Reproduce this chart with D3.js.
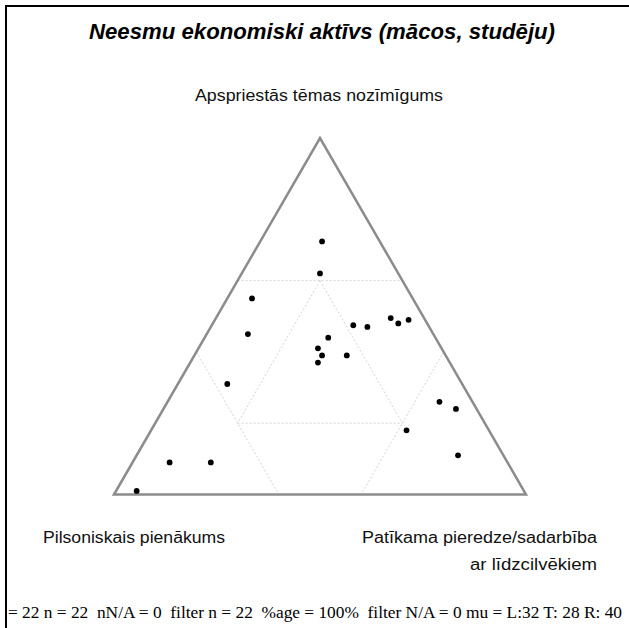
<!DOCTYPE html>
<html>
<head>
<meta charset="utf-8">
<script src="https://cdn.jsdelivr.net/npm/d3@7"></script>
<style>
  body { margin: 0; background: #fff; }
  svg { display: block; }
</style>
</head>
<body>
<div id="chart"></div>
<script>
const title = 'Neesmu ekonomiski aktīvs (mācos, studēju)'
const topLabel = 'Apspriestās tēmas nozīmīgums'
const leftLabel = 'Pilsoniskais pienākums'
const rightLabel = ['Patīkama pieredze/sadarbība', 'ar līdzcilvēkiem']
const footer = '= 22 n = 22  nN/A = 0  filter n = 22  %age = 100%  filter N/A = 0 mu = L:32 T: 28 R: 40'

// shares in percent, one entry per respondent
const leftVals = [14, 19, 39, 45, 57, 82, 72, 94, 18, 15, 8, 7, 4, 26, 30, 30, 32, 24, 8, 5, 20, 11]
const topVals = [71, 62, 55, 45, 31, 9, 9, 1, 47, 47, 49, 48, 49, 44, 41, 39, 37, 39, 26, 24, 18, 11]
const rightVals = [15, 19, 6, 10, 12, 9, 19, 5, 34, 38, 42, 45, 47, 30, 29, 31, 31, 37, 66, 71, 62, 78]

// guide segments, each end given as [left, top, right]
const guides = [
  [[40, 60, 0], [0, 60, 40]],
  [[60, 40, 0], [60, 0, 40]],
  [[0, 40, 60], [40, 0, 60]],
  [[20, 60, 20], [60, 20, 20]],
  [[20, 60, 20], [20, 20, 60]],
  [[60, 20, 20], [20, 20, 60]]
]

const width = 629
const height = 628

const svg = d3.select('#chart')
  .append('svg')
  .attr('width', width)
  .attr('height', height)

svg.append('rect')
  .attr('x', 6)
  .attr('y', 6)
  .attr('width', 700)
  .attr('height', 700)
  .attr('fill', 'none')
  .attr('stroke', '#000')
  .attr('stroke-width', 2)

const x = d3.scaleLinear().domain([0, 1]).range([114, 526])
const y = d3.scaleLinear().domain([0, 1]).range([494.5, 138])

function project (l, t, r) {
  const s = l + t + r
  return [x((r + t / 2) / s), y(t / s)]
}

const corners = [project(1, 0, 0), project(0, 1, 0), project(0, 0, 1)]

svg.append('g')
  .selectAll('line')
  .data(guides)
  .join('line')
  .attr('x1', d => project(...d[0])[0])
  .attr('y1', d => project(...d[0])[1])
  .attr('x2', d => project(...d[1])[0])
  .attr('y2', d => project(...d[1])[1])
  .attr('stroke', '#d4d4d4')
  .attr('stroke-width', 1)
  .attr('stroke-dasharray', '2,2')

svg.append('path')
  .attr('d', d3.line()(corners) + 'Z')
  .attr('fill', 'none')
  .attr('stroke', '#8c8c8c')
  .attr('stroke-width', 2.5)
  .attr('stroke-linejoin', 'miter')

const points = leftVals.map((l, i) => project(l, topVals[i], rightVals[i]))

svg.append('g')
  .selectAll('circle')
  .data(points)
  .join('circle')
  .attr('cx', d => d[0])
  .attr('cy', d => d[1])
  .attr('r', 2.9)
  .attr('fill', '#000')

const sans = 'Liberation Sans, Arial, Helvetica, sans-serif'

svg.append('text')
  .attr('x', 322)
  .attr('y', 39)
  .attr('text-anchor', 'middle')
  .attr('font-family', sans)
  .attr('font-size', 21.5)
  .attr('font-weight', 'bold')
  .attr('font-style', 'italic')
  .attr('textLength', 466)
  .attr('lengthAdjust', 'spacingAndGlyphs')
  .text(title)

svg.append('text')
  .attr('x', 319)
  .attr('y', 101)
  .attr('text-anchor', 'middle')
  .attr('font-family', sans)
  .attr('font-size', 16)
  .attr('fill', '#111')
  .attr('textLength', 248)
  .attr('lengthAdjust', 'spacingAndGlyphs')
  .text(topLabel)

svg.append('text')
  .attr('x', 134)
  .attr('y', 543)
  .attr('text-anchor', 'middle')
  .attr('font-family', sans)
  .attr('font-size', 16)
  .attr('fill', '#111')
  .attr('textLength', 182)
  .attr('lengthAdjust', 'spacingAndGlyphs')
  .text(leftLabel)

const rightWidths = [235, 127]

svg.append('g')
  .selectAll('text')
  .data(rightLabel)
  .join('text')
  .attr('x', 597)
  .attr('y', (d, i) => 543 + i * 27)
  .attr('text-anchor', 'end')
  .attr('font-family', sans)
  .attr('font-size', 16)
  .attr('fill', '#111')
  .attr('textLength', (d, i) => rightWidths[i])
  .attr('lengthAdjust', 'spacingAndGlyphs')
  .text(d => d)

svg.append('text')
  .attr('x', 8)
  .attr('y', 618)
  .attr('font-family', 'Liberation Serif, Times New Roman, serif')
  .attr('font-size', 16)
  .attr('textLength', 614)
  .attr('lengthAdjust', 'spacingAndGlyphs')
  .style('white-space', 'pre')
  .text(footer)
</script>
</body>
</html>
